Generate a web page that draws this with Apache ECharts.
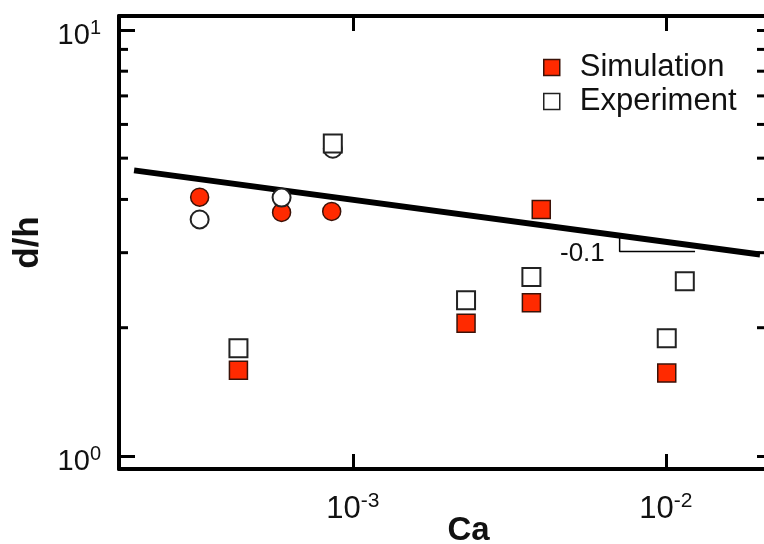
<!DOCTYPE html>
<html>
<head>
<meta charset="utf-8">
<script src="https://cdn.jsdelivr.net/npm/echarts@6/dist/echarts.min.js"></script>
<style>
  html, body { margin: 0; padding: 0; background: #fff; }
  #chart { width: 764px; height: 544px; }
</style>
</head>
<body>
<div id="chart"></div>
<script>
// axis ranges (log-log)
var xMin = 1.79e-4
var xMax = 2.09e-2
var yMin = 0.932
var yMax = 10.78
var yMinorTicks = [2, 3, 4, 5, 6, 7, 8, 9]

// simulation (filled red)
var simSquareX = [4.31e-4, 2.30e-3, 3.72e-3, 4.00e-3, 1.007e-2]
var simSquareY = [1.59, 2.05, 2.29, 3.79, 1.565]
var simCircleX = [3.24e-4, 5.92e-4, 8.56e-4]
var simCircleY = [4.05, 3.73, 3.75]

// experiment (open)
var expSquareX = [4.31e-4, 8.63e-4, 2.30e-3, 3.72e-3, 1.007e-2, 1.15e-2]
var expSquareY = [1.79, 5.41, 2.32, 2.63, 1.89, 2.57]
var expCircleX = [3.24e-4, 5.92e-4, 8.63e-4]
var expCircleY = [3.59, 4.04, 5.26]

// fit line and slope triangle
var fitX = [2e-4, 2e-2]
var fitY = [4.68, 2.97]
var slopeX = [7.12e-3, 7.12e-3, 1.24e-2]
var slopeY = [3.29, 3.02, 3.02]

function pairs(xs, ys) {
  return xs.map(function (x, i) { return [x, ys[i]] })
}

var red = '#ff2a00'
var fontFam = '"Liberation Sans", Arial, sans-serif'

function powLabel(v) {
  var e = Math.log10(v)
  var r = Math.round(e)
  if (Math.abs(e - r) > 1e-6) return ''
  return '{b|10}{s|' + r + '}'
}

function richFor(size) {
  return {
    b: { fontSize: size, fontFamily: fontFam, color: '#111', lineHeight: size + 6 },
    s: { fontSize: Math.round(size * 0.68), fontFamily: fontFam, color: '#111', verticalAlign: 'top', lineHeight: 20 }
  }
}

var myChart = echarts.init(document.getElementById('chart'))

var option = {
  animation: false,
  grid: { left: 119, right: -2, top: 16, bottom: 75, outerBoundsMode: 'none' },
  legend: {
    orient: 'vertical',
    left: 538,
    top: 47,
    itemWidth: 16,
    itemHeight: 16,
    itemGap: 3,
    selectedMode: false,
    textStyle: { fontSize: 31, fontFamily: fontFam, color: '#111', lineHeight: 30, padding: [0, 0, 0, 15] },
    data: [
      { name: 'Simulation', icon: 'rect', itemStyle: { color: red, borderColor: '#3a1208', borderWidth: 1.5 } },
      { name: 'Experiment', icon: 'rect', itemStyle: { color: '#fff', borderColor: '#222', borderWidth: 1.5 } }
    ]
  },
  xAxis: [
    {
      type: 'log', logBase: 10, min: xMin, max: xMax,
      name: 'Ca', nameLocation: 'middle', nameGap: 45, nameMoveOverlap: false,
      nameTextStyle: { fontSize: 33, fontWeight: 'bold', fontFamily: fontFam, color: '#111', padding: [0, 0, 0, 52] },
      axisLine: { onZero: false, lineStyle: { color: '#000', width: 4 } },
      axisTick: { inside: true, length: 15, lineStyle: { color: '#000', width: 3 } },
      axisLabel: { margin: 22, formatter: powLabel, rich: richFor(31), showMinLabel: false, showMaxLabel: false },
      splitLine: { show: false }
    },
    {
      type: 'log', logBase: 10, min: xMin, max: xMax, position: 'top',
      axisLine: { onZero: false, lineStyle: { color: '#000', width: 4 } },
      axisTick: { inside: true, length: 15, lineStyle: { color: '#000', width: 3 } },
      axisLabel: { show: false },
      splitLine: { show: false }
    }
  ],
  yAxis: [
    {
      type: 'log', logBase: 10, min: yMin, max: yMax,
      name: 'd/h', nameLocation: 'middle', nameGap: 73, nameMoveOverlap: false,
      nameTextStyle: { fontSize: 35, fontWeight: 'bold', fontFamily: fontFam, color: '#111' },
      axisLine: { onZero: false, lineStyle: { color: '#000', width: 4 } },
      axisTick: { inside: true, length: 16, lineStyle: { color: '#000', width: 3 } },
      axisLabel: { margin: 18, padding: [12, 0, 0, 0], formatter: powLabel, rich: richFor(29), showMinLabel: false, showMaxLabel: false },
      splitLine: { show: false }
    },
    {
      type: 'log', logBase: 10, min: yMin, max: yMax, position: 'right',
      axisLine: { onZero: false, lineStyle: { color: '#000', width: 4 } },
      axisTick: { inside: true, length: 9, lineStyle: { color: '#000', width: 3 } },
      axisLabel: { show: false },
      splitLine: { show: false }
    }
  ],
  graphic: [
    {
      type: 'text', left: 560, top: 241, silent: true,
      style: { text: '-0.1', fontSize: 26, fontFamily: fontFam, fill: '#111' }
    }
  ],
  series: [
    {
      // minor ticks on left and right spines
      type: 'custom',
      silent: true,
      clip: false,
      data: yMinorTicks.map(function (v) { return [v] }),
      renderItem: function (params, api) {
        var v = api.value(0)
        var pl = api.coord([xMin, v])
        var pr = api.coord([xMax, v])
        var st = { stroke: '#000', lineWidth: 3 }
        return {
          type: 'group',
          children: [
            { type: 'line', shape: { x1: pl[0], y1: pl[1], x2: pl[0] + 9, y2: pl[1] }, style: st },
            { type: 'line', shape: { x1: pr[0], y1: pr[1], x2: pr[0] - 9, y2: pr[1] }, style: st }
          ]
        }
      },
      encode: { y: 0 },
      z: 5
    },
    {
      name: 'fit',
      type: 'line',
      data: pairs(fitX, fitY),
      showSymbol: false,
      lineStyle: { color: '#000', width: 6 },
      silent: true,
      z: 2
    },
    {
      name: 'slope',
      type: 'line',
      data: pairs(slopeX, slopeY),
      showSymbol: false,
      lineStyle: { color: '#000', width: 1.5 },
      silent: true,
      z: 2
    },
    {
      name: 'Simulation',
      type: 'scatter',
      symbol: 'circle',
      symbolSize: 18,
      data: pairs(simCircleX, simCircleY),
      itemStyle: { color: red, borderColor: '#3a1208', borderWidth: 1.5, opacity: 1 },
      z: 3
    },
    {
      name: 'Experiment',
      type: 'scatter',
      symbol: 'circle',
      symbolSize: 18,
      data: pairs(expCircleX, expCircleY),
      itemStyle: { color: '#fff', borderColor: '#222', borderWidth: 2, opacity: 1 },
      z: 4
    },
    {
      name: 'Simulation',
      type: 'scatter',
      symbol: 'rect',
      symbolSize: 18,
      data: pairs(simSquareX, simSquareY),
      itemStyle: { color: red, borderColor: '#3a1208', borderWidth: 1.5, opacity: 1 },
      z: 5
    },
    {
      name: 'Experiment',
      type: 'scatter',
      symbol: 'rect',
      symbolSize: 18,
      data: pairs(expSquareX, expSquareY),
      itemStyle: { color: '#fff', borderColor: '#222', borderWidth: 2, opacity: 1 },
      z: 6
    }
  ]
}

option && myChart.setOption(option)
</script>
</body>
</html>
